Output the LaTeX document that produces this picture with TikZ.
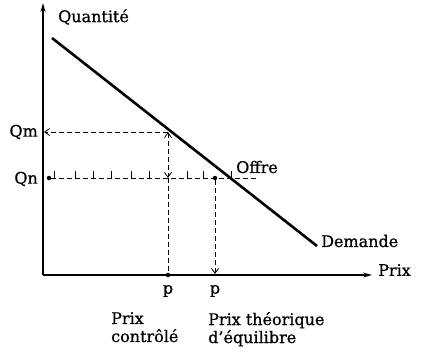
\documentclass[tikz,border=0pt]{standalone}
\usepackage{fontspec}
\setmainfont[FakeBold=0.8]{DejaVu Serif}
\usetikzlibrary{arrows.meta}
\begin{document}
\begin{tikzpicture}[x=1pt,y=-1pt,
  axis/.style={line width=1.2pt,-{Stealth[length=9pt,width=5pt]}},
  demand/.style={line width=2.6pt},
  guide/.style={line width=0.8pt,dash pattern=on 5pt off 3pt},
  lbl/.style={font=\fontsize{16}{18}\selectfont,inner sep=0pt},
  dotmark/.style={circle,fill=black,inner sep=0pt,minimum size=4.5pt}]
\useasboundingbox (0,0) rectangle (421,354);
% axes
\coordinate (O) at (43,275);
\coordinate (Ytop) at (43,3);
\coordinate (Xend) at (372,275);
\draw[axis] (O) -- (Ytop);
\draw[axis] (O) -- (Xend);
% demand
\coordinate (D1) at (52,38);
\coordinate (D2) at (317,246);
\draw[demand] (D1) -- (D2);
% points
\coordinate (A) at (168,132);
\coordinate (Qmy) at (44,132);
\coordinate (Ac) at (168,178);
\node[dotmark] (Qndot) at (49,178) {};
\node[dotmark] (E) at (215,178) {};
\coordinate (Send) at (256,178);
\node[dotmark] (Pcdot) at (168,275) {};
\coordinate (Pe) at (215,274);
% guides
\draw[guide,-{Straight Barb[length=5pt,width=7pt]}] (A) -- (Qmy);
\draw[guide,{Straight Barb[length=5pt,width=7pt]}-{Straight Barb[length=5pt,width=7pt]}] (A) -- (Ac);
\draw[guide] (Ac) -- (Pcdot);
\draw[guide,-{Straight Barb[length=5pt,width=7pt]}] (E) -- (Pe);
\draw[guide] (Qndot) -- (Send);
\foreach \x in {54,75,93,111,131,149,187,203,231} \draw[line width=0.8pt] (\x,178) -- (\x,171);
% labels
\node[lbl,anchor=west] (q) at (58,17) {Quantité};
\node[lbl,anchor=east] (qm) at (38,132) {Qm};
\node[lbl,anchor=east] (qn) at (38,179) {Qn};
\node[lbl,anchor=west] (of) at (236,167) {Offre};
\node[lbl,anchor=west] (dm) at (321,241) {Demande};
\node[lbl,anchor=west] (px) at (378,270) {Prix};
\node[lbl] (p1) at (168,291) {p};
\node[lbl] (p2) at (215,291) {p};
\node[lbl,anchor=north west,align=left] (t1) at (111,312) {Prix\\contrôlé};
\node[lbl,anchor=north west,align=left] (t2) at (208,312) {Prix théorique\\d’équilibre};
\end{tikzpicture}
\end{document}
